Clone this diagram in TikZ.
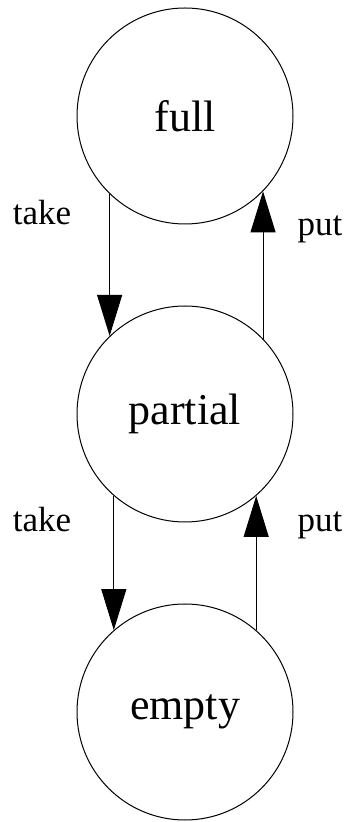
\documentclass[tikz,border=0pt]{standalone}
\usepackage{fontspec}
\setmainfont{Liberation Serif}
\usetikzlibrary{arrows.meta}
\begin{document}
\begin{tikzpicture}[x=1pt,y=1pt,
  state/.style={circle,draw,line width=1pt,minimum size=216pt,inner sep=0pt,font=\fontsize{44}{48}\selectfont},
  lbl/.style={anchor=base,font=\fontsize{35}{40}\selectfont},
  edge/.style={line width=1pt,-{Triangle[length=41pt,width=25pt]}}]
\useasboundingbox (0,0) rectangle (350,822);
\node[state] (full) at (185,706) {full};
\node[state] (partial) at (185,408) {partial};
\node[state] (empty) at (185,110) {empty};
\draw[edge] (full.226) -- (full.226 |- partial.134);
\draw[edge] (partial.44.5) -- (partial.44.5 |- full.-44.5);
\draw[edge] (partial.229) -- (partial.229 |- empty.131);
\draw[edge] (empty.49.6) -- (empty.49.6 |- partial.-49.6);
\node[lbl] (t1) at (42,597) {take};
\node[lbl] (p1) at (320,586) {put};
\node[lbl] (t2) at (42,290) {take};
\node[lbl] (p2) at (320,290) {put};
\end{tikzpicture}
\end{document}
